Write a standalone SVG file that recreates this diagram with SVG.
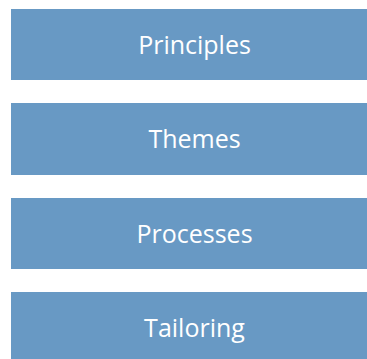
<svg xmlns="http://www.w3.org/2000/svg" width="367" height="359" viewBox="0 0 367 359">
<style>
.box{fill:#6899C4}
.t{fill:#FFFFFF;font-family:"Open Sans","Noto Sans",sans-serif;font-size:25px;text-anchor:middle}
</style>
<rect width="367" height="359" fill="#FFFFFF"/>
<g id="principles"><rect class="box" x="11" y="9" width="356" height="71"/><text class="t" x="194.5" y="54">Principles</text></g>
<g id="themes"><rect class="box" x="11" y="103" width="356" height="72"/><text class="t" x="194.5" y="148">Themes</text></g>
<g id="processes"><rect class="box" x="11" y="198" width="356" height="71"/><text class="t" x="194.5" y="243">Processes</text></g>
<g id="tailoring"><rect class="box" x="11" y="292" width="356" height="71"/><text class="t" x="194.5" y="337">Tailoring</text></g>
<g id="connectors"/>
</svg>
